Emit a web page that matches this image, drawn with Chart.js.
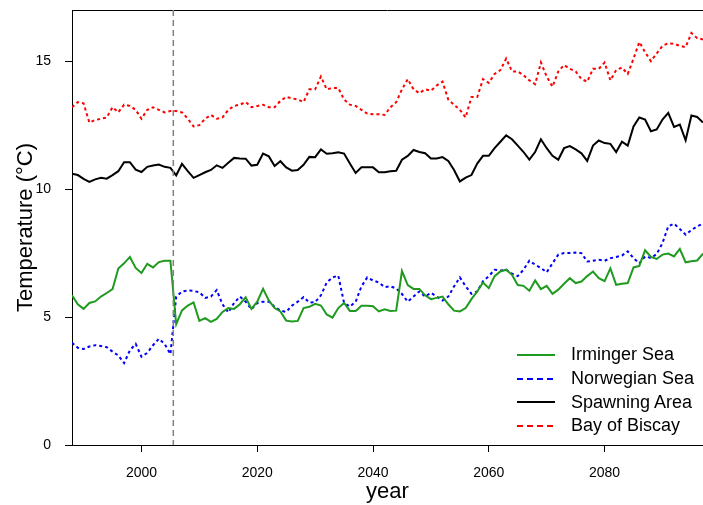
<!DOCTYPE html>
<html>
<head>
<meta charset="utf-8">
<script src="https://cdn.jsdelivr.net/npm/chart.js@4/dist/chart.umd.min.js"></script>
<style>
  body { margin: 0; background: #fff; }
  #wrap { position: relative; width: 703px; height: 505px; }
  #legend { position: absolute; left: 517px; top: 343px; font-family: "Liberation Sans", Arial, sans-serif; font-size: 18px; color: #000; }
  #legend .row { display: flex; align-items: center; height: 23.7px; }
  #legend svg { margin-right: 16px; }
</style>
</head>
<body>
<div id="wrap">
  <canvas id="temp" width="703" height="505"></canvas>
  <div id="legend"></div>
</div>
<script>
// annual mean temperature, 1988-2097
const firstYear = 1988;
const splitYear = 2005.5; // end of observed period

const irminger = [
  5.85, 5.5, 5.32, 5.55, 5.61, 5.8, 5.94, 6.09, 6.9, 7.1,
  7.35, 6.92, 6.72, 7.08, 6.94, 7.15, 7.2, 7.2, 4.72, 5.26,
  5.45, 5.57, 4.85, 4.96, 4.81, 4.93, 5.2, 5.35, 5.32, 5.5,
  5.77, 5.32, 5.6, 6.1, 5.65, 5.35, 5.22, 4.86, 4.83, 4.85,
  5.35, 5.4, 5.52, 5.45, 5.1, 4.98, 5.35, 5.55, 5.24, 5.24,
  5.44, 5.44, 5.42, 5.22, 5.3, 5.24, 5.25, 6.8, 6.25, 6.1,
  6.1, 5.85, 5.7, 5.75, 5.8, 5.5, 5.25, 5.22, 5.35, 5.7,
  6.0, 6.35, 6.13, 6.6, 6.78, 6.85, 6.65, 6.25, 6.22, 6.03,
  6.43, 6.09, 6.22, 5.91, 6.07, 6.3, 6.52, 6.33, 6.39, 6.6,
  6.78, 6.52, 6.4, 6.9, 6.26, 6.3, 6.33, 6.94, 7.0, 7.61,
  7.35, 7.27, 7.44, 7.48, 7.37, 7.66, 7.14, 7.18, 7.21, 7.48
];
const norwegian = [
  4.0, 3.8, 3.75, 3.85, 3.9, 3.87, 3.82, 3.65, 3.5, 3.2,
  3.7, 3.95, 3.45, 3.6, 3.9, 4.15, 3.95, 3.55, 5.8, 6.0,
  6.04, 6.02, 5.97, 5.75, 5.8, 6.05, 5.5, 5.18, 5.55, 5.8,
  5.6, 5.3, 5.55, 5.6, 5.6, 5.4, 5.25, 5.2, 5.45, 5.6,
  5.78, 5.57, 5.58, 5.85, 6.35, 6.55, 6.62, 5.55, 5.41, 5.6,
  6.2, 6.55, 6.43, 6.35, 6.17, 6.2, 6.12, 5.9, 5.6, 5.8,
  6.0, 5.8, 5.95, 5.8, 5.65, 5.8, 6.2, 6.55, 6.2, 5.91,
  6.0, 6.4, 6.6, 6.85, 6.82, 6.85, 6.7, 6.6, 6.85, 7.2,
  7.05, 6.92, 6.75, 7.1, 7.44, 7.5, 7.5, 7.52, 7.5, 7.17,
  7.2, 7.24, 7.2, 7.3, 7.35, 7.4, 7.57, 7.3, 7.1, 7.37,
  7.31, 7.46, 7.89, 8.55, 8.65, 8.44, 8.22, 8.4, 8.55, 8.65
];
const spawning = [
  10.6, 10.55, 10.4, 10.28, 10.38, 10.44, 10.41, 10.55, 10.7, 11.05,
  11.05, 10.76, 10.67, 10.87, 10.92, 10.96, 10.87, 10.83, 10.54, 10.99,
  10.7, 10.44, 10.55, 10.66, 10.75, 10.93, 10.83, 11.03, 11.22, 11.2,
  11.19, 10.92, 10.95, 11.39, 11.28, 10.9, 11.09, 10.85, 10.72, 10.75,
  10.95, 11.26, 11.25, 11.55, 11.38, 11.4, 11.44, 11.39, 11.0, 10.63,
  10.85, 10.85, 10.85, 10.66, 10.66, 10.7, 10.72, 11.15, 11.3, 11.53,
  11.45, 11.4, 11.2, 11.2, 11.25, 11.1, 10.75, 10.3, 10.45, 10.55,
  11.0, 11.3, 11.3, 11.6, 11.85, 12.1, 11.95, 11.7, 11.45, 11.15,
  11.45, 11.95, 11.6, 11.3, 11.15, 11.6, 11.68, 11.55, 11.4, 11.1,
  11.7, 11.9, 11.8, 11.77, 11.45, 11.85, 11.7, 12.45, 12.8, 12.72,
  12.26, 12.33, 12.72, 12.98, 12.43, 12.52, 11.91, 12.88, 12.82, 12.6
];
const biscay = [
  13.2, 13.4, 13.35, 12.6, 12.7, 12.75, 12.8, 13.2, 13.0, 13.3,
  13.25, 13.1, 12.75, 13.1, 13.2, 13.1, 13.0, 13.05, 13.05, 13.0,
  12.75, 12.45, 12.5, 12.75, 12.9, 12.75, 12.8, 13.1, 13.25, 13.3,
  13.4, 13.2, 13.25, 13.3, 13.2, 13.2, 13.45, 13.6, 13.55, 13.5,
  13.4, 13.9, 13.9, 14.4, 13.9, 13.95, 13.95, 13.5, 13.3, 13.25,
  13.1, 12.95, 12.93, 12.93, 12.9, 13.2, 13.4, 13.9, 14.3, 13.9,
  13.75, 13.9, 13.85, 14.05, 14.2, 13.5, 13.3, 13.1, 12.8, 13.6,
  13.6, 14.3, 14.15, 14.5, 14.65, 15.1, 14.6, 14.6, 14.45, 14.25,
  14.1, 14.95, 14.4, 14.0, 14.6, 14.85, 14.7, 14.6, 14.3, 14.2,
  14.7, 14.7, 14.95, 14.25, 14.65, 14.75, 14.5, 15.1, 15.75, 15.35,
  15.0, 15.3, 15.6, 15.7, 15.68, 15.6, 15.55, 16.1, 15.9, 15.85
];

const years = irminger.map((_, i) => firstYear + i);
const xTicks = [2000, 2020, 2040, 2060, 2080];
const yTicks = [0, 5, 10, 15];

const font = '"Liberation Sans", Arial, sans-serif';

function series(label, values, color, dash) {
  return {
    label: label,
    data: values.map((v, i) => ({ x: years[i], y: v })),
    borderColor: color,
    backgroundColor: color,
    borderWidth: 2,
    borderDash: dash,
    pointRadius: 0,
    tension: 0,
  };
}

const datasets = [
  series('Irminger Sea', irminger, '#1f9a1f', []),
  series('Norwegian Sea', norwegian, '#0000ff', [3, 3]),
  series('Spawning Area', spawning, '#000000', []),
  series('Bay of Biscay', biscay, '#ff0000', [3, 3]),
];

// top frame line and the grey marker at the end of the observations
const frame = {
  id: 'frame',
  afterDatasetsDraw(chart) {
    const { ctx, chartArea, scales } = chart;
    ctx.save();
    ctx.strokeStyle = '#000';
    ctx.lineWidth = 1;
    ctx.beginPath();
    ctx.moveTo(chartArea.left, chartArea.top + 0.5);
    ctx.lineTo(chartArea.right, chartArea.top + 0.5);
    ctx.stroke();

    const xs = scales.x.getPixelForValue(splitYear);
    ctx.strokeStyle = '#808080';
    ctx.lineWidth = 1.5;
    ctx.setLineDash([6, 4]);
    ctx.beginPath();
    ctx.moveTo(xs, chartArea.top);
    ctx.lineTo(xs, chartArea.bottom);
    ctx.stroke();
    ctx.restore();
  }
};

const chart = new Chart(document.getElementById('temp'), {
  type: 'line',
  data: { datasets: datasets },
  options: {
    responsive: false,
    animation: false,
    layout: { padding: { top: 10, right: 0, left: 0, bottom: 0 } },
    plugins: {
      legend: { display: false },
      tooltip: { enabled: false },
    },
    scales: {
      x: {
        type: 'linear',
        min: 1988,
        max: 2097,
        afterBuildTicks: (scale) => { scale.ticks = xTicks.map(v => ({ value: v })); },
        afterFit: (scale) => {
          scale.height = 60;
          scale.paddingLeft = 0;
          scale.paddingRight = 0;
        },
        ticks: {
          color: '#000', font: { family: font, size: 14 }, padding: 13, maxRotation: 0,
          callback: (v) => String(v),
        },
        grid: { drawOnChartArea: false, drawTicks: true, tickLength: 7, color: '#000' },
        border: { display: true, color: '#000', width: 1 },
        title: { display: true, text: 'year', color: '#000', font: { family: font, size: 22 }, padding: { top: 0, bottom: 0 } },
      },
      y: {
        min: 0,
        max: 17,
        afterBuildTicks: (scale) => { scale.ticks = yTicks.map(v => ({ value: v })); },
        afterFit: (scale) => {
          scale.width = 72;
          scale.paddingTop = 0;
          scale.paddingBottom = 0;
        },
        ticks: { color: '#000', font: { family: font, size: 14 }, padding: 14 },
        grid: { drawOnChartArea: false, drawTicks: true, tickLength: 7, color: '#000' },
        border: { display: true, color: '#000', width: 1 },
        title: { display: true, text: 'Temperature (°C)', color: '#000', font: { family: font, size: 22 }, padding: { top: 13, bottom: 0 } },
      },
    },
  },
  plugins: [frame],
});

// legend in the lower right corner of the plot
const legendDash = { '': '', '3,3': '6,4' };
const legendEl = document.getElementById('legend');
datasets.forEach(ds => {
  const row = document.createElement('div');
  row.className = 'row';
  const dash = legendDash[ds.borderDash.join(',')];
  row.innerHTML =
    '<svg width="38" height="4"><line x1="0" y1="2" x2="38" y2="2" stroke="' + ds.borderColor +
    '" stroke-width="2"' + (dash ? ' stroke-dasharray="' + dash + '"' : '') + '/></svg>' +
    '<span>' + ds.label + '</span>';
  legendEl.appendChild(row);
});
</script>
</body>
</html>
